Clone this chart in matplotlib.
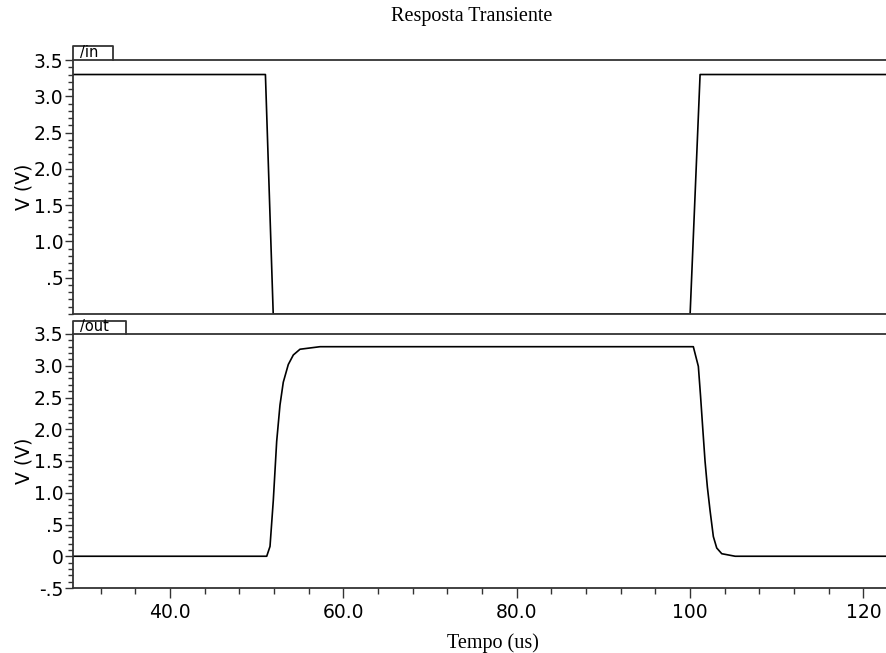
import numpy as np
import matplotlib
matplotlib.use("Agg")
import matplotlib.pyplot as plt
from matplotlib.ticker import MultipleLocator

# sinal de entrada (/in)
t_in = [0.0, 51.0, 51.9, 100.0, 101.15, 130.0]
v_in = [3.3, 3.3, 0.0, 0.0, 3.3, 3.3]

# sinal de saida (/out)
t_out = [0.0, 51.15, 51.53, 51.91, 52.30, 52.68, 53.06, 53.64, 54.22, 54.99, 57.3,
         100.37, 100.95, 101.2, 101.46, 101.72, 101.99, 102.3, 102.68, 103.07, 103.65, 105.2, 130.0]
v_out = [0.0, 0.0, 0.155, 0.88, 1.81, 2.38, 2.74, 3.02, 3.17, 3.26, 3.3,
         3.3, 2.99, 2.53, 2.01, 1.50, 1.09, 0.72, 0.31, 0.13, 0.04, 0.0, 0.0]

yt_in = [0.5, 1.0, 1.5, 2.0, 2.5, 3.0, 3.5]
yl_in = ['.5', '1.0', '1.5', '2.0', '2.5', '3.0', '3.5']
yt_out = [-0.5, 0.0, 0.5, 1.0, 1.5, 2.0, 2.5, 3.0, 3.5]
yl_out = ['-.5', '0', '.5', '1.0', '1.5', '2.0', '2.5', '3.0', '3.5']
xt = [40, 60, 80, 100, 120]
xl = ['40.0', '60.0', '80.0', '100', '120']

W, H = 886, 653
fig = plt.figure(figsize=(W / 100, H / 100), dpi=100)
edge = '#333333'
fs = 13.5

def painel(y0, y1):
    ax = fig.add_axes([73 / W, 1 - y1 / H, (W - 73) / W, (y1 - y0) / H])
    ax.set_xlim(28.8, 122.6)
    for s in ['top', 'bottom', 'left']:
        ax.spines[s].set_color(edge)
        ax.spines[s].set_linewidth(1.3)
    ax.spines['right'].set_visible(False)
    ax.yaxis.set_minor_locator(MultipleLocator(0.1))
    ax.tick_params(axis='y', which='major', length=6, width=1, color=edge, labelsize=fs, pad=1)
    ax.tick_params(axis='y', which='minor', length=3.5, width=1, color=edge)
    ax.set_ylabel('V (V)', fontsize=fs)
    ax.yaxis.set_label_coords(-0.048, 0.5)
    return ax

def aba(ax, largura, altura, nome):
    w = largura / (W - 73)
    pos = ax.get_position()
    h = altura / (pos.height * H)
    ax.plot([0, 0, w, w], [1, 1 + h, 1 + h, 1], transform=ax.transAxes,
            color=edge, lw=1.3, clip_on=False)
    ax.text(0.008, 1.0, nome, transform=ax.transAxes, fontsize=10.5,
            va='bottom', ha='left')

ax1 = painel(60, 314)
ax1.plot(t_in, v_in, color='black', lw=1.2)
ax1.set_ylim(0, 3.5)
ax1.set_yticks(yt_in, yl_in)
ax1.set_xticks([])
ax1.xaxis.set_minor_locator(plt.NullLocator())
aba(ax1, 40, 14, '/in')

ax2 = painel(334, 588)
ax2.plot(t_out, v_out, color='black', lw=1.2)
ax2.set_ylim(-0.5, 3.5)
ax2.set_yticks(yt_out, yl_out)
ax2.set_xticks(xt, xl)
ax2.xaxis.set_minor_locator(MultipleLocator(4))
ax2.tick_params(axis='x', which='major', length=7, width=1, color=edge, labelsize=fs, pad=4)
ax2.tick_params(axis='x', which='minor', length=4, width=1, color=edge)
ax2.set_xlabel('Tempo (us)', fontsize=14.5, family='Liberation Serif')
ax2.xaxis.set_label_coords(0.517, -0.18)

fig.text(472 / W, 1 - 17 / H, 'Resposta Transiente', ha='center', va='center',
         fontsize=14.5, family='Liberation Serif')

aba(ax2, 53, 13, '/out')

fig.savefig('out.png', dpi=100)
